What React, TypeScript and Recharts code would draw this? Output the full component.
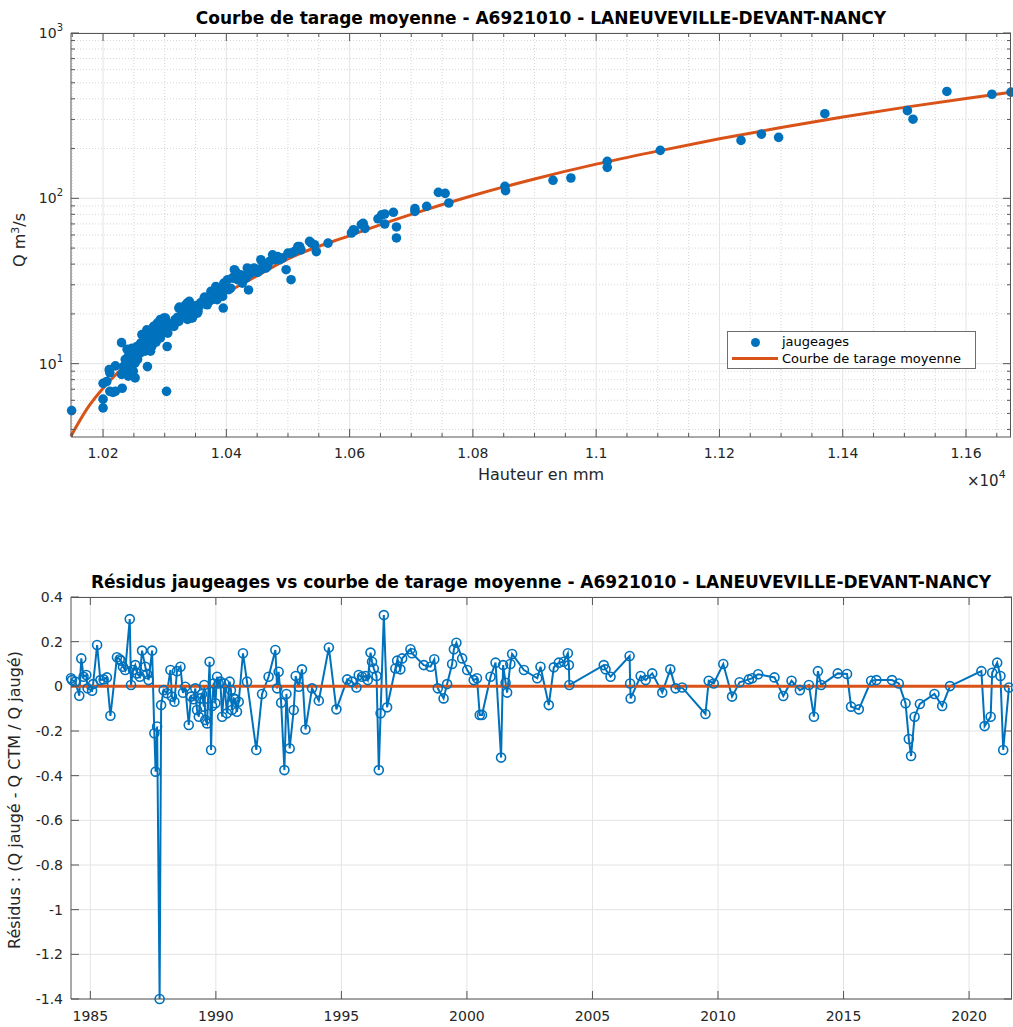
import React from 'react';
import { ComposedChart, Scatter, Line, XAxis, YAxis, CartesianGrid } from 'recharts';

const FONT = '"DejaVu Sans", Verdana, sans-serif';
const BLUE = '#0072BD';
const ORANGE = '#D95319';
const AXIS = '#555555';
const TEXT = '#262626';

// jaugeages : [hauteur (mm), débit (m3/s)]
const jaugeages: [number, number][] = [
  [10149, 5.2], [10200, 6.1], [10200, 5.4], [10200, 7.6], [10206, 7.8], [10211, 8.8], [10210, 9.2],
  [10220, 9.7], [10230, 13.4], [10231, 7.1], [10220, 6.8], [10211, 6.8], [10216, 6.7], [10230, 8.6],
  [10233, 9.6], [10236, 10.6], [10239, 9.0], [10241, 8.4], [10244, 11.6], [10247, 12.4], [10249, 10.8],
  [10239, 12.2], [10241, 11.1], [10244, 10.3], [10247, 9.6], [10249, 9.0], [10252, 8.2], [10252, 10.1],
  [10254, 11.6], [10255, 12.7], [10255, 11.9], [10256, 10.6], [10260, 11.6], [10261, 13.3], [10263, 15.0],
  [10263, 12.4], [10266, 13.3], [10268, 11.9], [10269, 15.3], [10270, 14.3], [10271, 16.0], [10272, 12.7],
  [10272, 9.6], [10274, 14.0], [10276, 15.0], [10277, 11.9], [10278, 13.0], [10279, 12.7], [10281, 14.6],
  [10282, 16.8], [10283, 16.0], [10286, 13.5], [10288, 17.6], [10289, 15.0], [10290, 16.0], [10292, 18.0],
  [10293, 18.5], [10293, 14.3], [10294, 15.7], [10296, 17.2], [10297, 16.4], [10298, 18.5], [10299, 18.9],
  [10301, 18.9], [10303, 18.0], [10303, 6.8], [10304, 16.8], [10304, 12.7], [10305, 15.3], [10308, 17.2],
  [10312, 17.0], [10315, 16.8], [10317, 18.5], [10321, 19.1], [10323, 18.0], [10323, 21.7], [10324, 22.0],
  [10328, 20.7], [10332, 19.8], [10334, 22.7], [10337, 18.5], [10337, 23.3], [10340, 23.8], [10341, 21.7],
  [10343, 18.9], [10345, 18.9], [10346, 20.2], [10350, 22.4], [10353, 20.2], [10354, 20.7], [10356, 22.2],
  [10358, 23.3], [10364, 24.9], [10365, 25.3], [10369, 22.7], [10372, 23.8], [10375, 27.4], [10377, 24.4],
  [10380, 26.7], [10383, 29.3], [10385, 24.4], [10388, 26.1], [10391, 28.0], [10394, 25.5], [10395, 21.7],
  [10396, 30.7], [10399, 29.3], [10402, 32.2], [10404, 28.0], [10407, 28.6], [10410, 33.0], [10412, 32.9],
  [10413, 37.0], [10415, 36.1], [10418, 32.2], [10423, 34.5], [10426, 30.7], [10429, 33.7], [10432, 32.9],
  [10434, 37.9], [10436, 27.9], [10437, 35.3], [10440, 35.3], [10443, 37.0], [10445, 37.9], [10448, 37.0],
  [10451, 35.6], [10456, 37.0], [10456, 42.5], [10459, 38.7], [10464, 37.8], [10467, 38.8], [10470, 41.5],
  [10475, 45.5], [10478, 42.5], [10483, 44.5], [10486, 42.5], [10489, 43.5], [10491, 43.5], [10497, 37.0],
  [10500, 46.6], [10505, 32.2], [10505, 46.6], [10510, 47.6], [10516, 51.1], [10519, 51.1], [10521, 48.8],
  [10535, 54.9], [10538, 53.6], [10543, 52.4], [10546, 47.6], [10565, 53.6], [10603, 61.7], [10606, 64.4],
  [10608, 63.8], [10619, 69.4], [10622, 70.6], [10625, 65.8], [10646, 75.2], [10652, 79.5], [10657, 80.4],
  [10657, 69.9], [10671, 82.3], [10676, 67.1], [10676, 57.6], [10706, 83.4], [10706, 86.6], [10725, 89.5],
  [10744, 108.7], [10755, 107.2], [10761, 93.7], [10852, 118.2], [10853, 111.3], [10930, 128.5],
  [10959, 132.7], [11018, 167.4], [11018, 153.9], [11104, 195], [11235, 224], [11268, 244.5],
  [11296, 233.6], [11371, 325], [11505, 339], [11514, 301], [11569, 443], [11642, 426], [11673, 439],
];

// courbe de tarage moyenne
const courbeH = [10148, 10175, 10200, 10225, 10250, 10275, 10300, 10350, 10400, 10450, 10500, 10600, 10700,
  10800, 10900, 11000, 11100, 11200, 11300, 11400, 11500, 11600, 11673];
const courbeQ = [3.65, 5.4, 7.1, 8.9, 10.9, 13.6, 16.6, 21.5, 26.9, 34, 43, 59.5, 80, 104, 131, 161, 193, 229,
  268, 310, 355, 402, 438];

// résidus : [année décimale, résidu]
const residus: [number, number][] = [
  [1984.23, 0.036], [1984.27, 0.028], [1984.40, 0.021], [1984.56, -0.042], [1984.64, 0.125], [1984.73, 0.043],
  [1984.84, 0.051], [1984.89, -0.009], [1985.07, -0.020], [1985.11, 0.010], [1985.27, 0.185], [1985.40, 0.028],
  [1985.53, 0.031], [1985.66, 0.040], [1985.80, -0.132], [1986.06, 0.130], [1986.17, 0.121], [1986.22, 0.115],
  [1986.30, 0.088], [1986.39, 0.073], [1986.57, 0.301], [1986.62, 0.006], [1986.70, 0.073], [1986.79, 0.095],
  [1986.86, 0.058], [1986.97, 0.043], [1987.06, 0.160], [1987.19, 0.088], [1987.26, 0.055], [1987.32, 0.028],
  [1987.46, 0.160], [1987.55, -0.210], [1987.60, -0.382], [1987.66, -0.180], [1987.76, -1.400], [1987.82, -0.084],
  [1987.92, -0.017], [1988.05, -0.031], [1988.19, 0.073], [1988.25, -0.046], [1988.35, -0.069], [1988.45, 0.068],
  [1988.59, 0.088], [1988.69, -0.029], [1988.78, -0.002], [1988.92, -0.173], [1989.01, -0.046], [1989.12, -0.058],
  [1989.18, -0.009], [1989.25, -0.106], [1989.32, -0.136], [1989.38, -0.054], [1989.45, -0.034], [1989.52, -0.091],
  [1989.54, 0.006], [1989.58, -0.151], [1989.65, -0.166], [1989.75, 0.110], [1989.81, -0.285], [1989.85, -0.088],
  [1989.91, 0.013], [1989.98, -0.076], [1990.05, 0.043], [1990.11, 0.013], [1990.18, 0.021], [1990.25, -0.136],
  [1990.34, 0.013], [1990.44, -0.121], [1990.55, 0.021], [1990.60, -0.017], [1990.64, -0.106], [1990.71, -0.054],
  [1990.78, -0.058], [1990.84, -0.114], [1990.91, -0.069], [1991.08, 0.148], [1991.24, 0.021], [1991.61, -0.285],
  [1991.84, -0.034], [1992.10, 0.043], [1992.37, 0.163], [1992.44, -0.009], [1992.50, 0.065], [1992.60, -0.073],
  [1992.73, -0.375], [1992.81, -0.034], [1992.94, -0.278], [1993.10, -0.106], [1993.18, 0.046], [1993.30, -0.002],
  [1993.43, 0.076], [1993.57, -0.193], [1993.83, -0.009], [1994.10, -0.064], [1994.50, 0.174], [1994.80, -0.103],
  [1995.23, 0.031], [1995.42, 0.021], [1995.60, -0.005], [1995.69, 0.051], [1995.82, 0.043], [1995.96, 0.046],
  [1996.05, 0.028], [1996.16, 0.151], [1996.22, 0.110], [1996.29, 0.080], [1996.40, 0.046], [1996.49, -0.375],
  [1996.56, -0.121], [1996.69, 0.319], [1996.82, -0.094], [1997.15, 0.080], [1997.22, 0.115], [1997.35, 0.076],
  [1997.42, 0.125], [1997.75, 0.166], [1997.81, 0.148], [1998.28, 0.095], [1998.55, 0.088], [1998.70, 0.121],
  [1998.84, -0.009], [1999.07, -0.054], [1999.21, 0.010], [1999.41, 0.100], [1999.48, 0.166], [1999.58, 0.195],
  [1999.81, 0.125], [2000.01, 0.073], [2000.27, 0.028], [2000.40, 0.036], [2000.51, -0.128], [2000.60, -0.128],
  [2000.94, 0.043], [2001.14, 0.106], [2001.36, -0.319], [2001.44, 0.095], [2001.54, 0.016], [2001.60, -0.028],
  [2001.73, 0.100], [2001.80, 0.145], [2002.27, 0.073], [2002.80, 0.036], [2002.93, 0.088], [2003.26, -0.084],
  [2003.46, 0.085], [2003.66, 0.106], [2003.86, 0.110], [2004.02, 0.148], [2004.06, 0.095], [2004.08, 0.006],
  [2005.45, 0.095], [2005.52, 0.076], [2005.72, 0.043], [2006.48, 0.136], [2006.50, 0.013], [2006.52, -0.054],
  [2006.92, 0.046], [2007.12, 0.028], [2007.38, 0.058], [2007.78, -0.028], [2008.10, 0.076], [2008.31, -0.009],
  [2008.57, -0.005], [2009.50, -0.124], [2009.63, 0.025], [2009.83, 0.013], [2010.21, 0.100], [2010.56, -0.046],
  [2010.86, 0.018], [2011.23, 0.031], [2011.36, 0.036], [2011.60, 0.054], [2012.25, 0.040], [2012.60, -0.043],
  [2012.93, 0.025], [2013.26, -0.017], [2013.62, 0.006], [2013.82, -0.136], [2013.98, 0.068], [2014.11, 0.006],
  [2014.77, 0.058], [2015.14, 0.055], [2015.30, -0.091], [2015.61, -0.103], [2016.10, 0.025], [2016.31, 0.028],
  [2016.93, 0.028], [2017.20, 0.013], [2017.47, -0.076], [2017.60, -0.236], [2017.69, -0.312], [2017.83, -0.136],
  [2018.04, -0.079], [2018.62, -0.034], [2018.93, -0.088], [2019.24, 0.001], [2020.49, 0.068], [2020.62, -0.178],
  [2020.86, -0.136], [2020.92, 0.061], [2021.12, 0.106], [2021.25, 0.046], [2021.36, -0.285], [2021.59, -0.005],
];

// ticks
const hTicksMajor = [10200, 10400, 10600, 10800, 11000, 11200, 11400, 11600];
const hTicksMinor = [10150, 10250, 10300, 10350, 10450, 10500, 10550, 10650, 10700, 10750, 10850, 10900, 10950,
  11050, 11100, 11150, 11250, 11300, 11350, 11450, 11500, 11550, 11650];
const qTicksMajor = [10, 100, 1000];
const qTicksMinor = [4, 5, 6, 7, 8, 9, 20, 30, 40, 50, 60, 70, 80, 90, 200, 300, 400, 500, 600, 700, 800, 900];
const yearTicks = [1985, 1990, 1995, 2000, 2005, 2010, 2015, 2020];
const residuTicks = [-1.4, -1.2, -1, -0.8, -0.6, -0.4, -0.2, 0, 0.2, 0.4];

const jaugeagesData = jaugeages.map(([h, q]) => ({ h, q }));
const courbeData = courbeH.map((h, i) => ({ h, q: courbeQ[i] }));
const residusData = residus.map(([t, v]) => ({ t, v }));
const zeroData = [
  { t: residus[0][0], v: 0 },
  { t: residus[residus.length - 1][0], v: 0 },
];

// plot boxes (chart coordinates)
const TOP = { left: 71, right: 1011, top: 33, bottom: 437 };
const BOT = { left: 71, right: 1012, top: 57, bottom: 459 };

const XTickH = (props: any) => {
  const { x, payload } = props;
  const v = payload.value;
  const major = hTicksMajor.includes(v);
  const len = major ? 8 : 4;
  return (
    <g>
      <line x1={x} x2={x} y1={TOP.bottom} y2={TOP.bottom - len} stroke={AXIS} />
      <line x1={x} x2={x} y1={TOP.top} y2={TOP.top + len} stroke={AXIS} />
      {major && (
        <text x={x} y={TOP.bottom + 21} textAnchor="middle" fill={TEXT} fontSize={14} fontFamily={FONT}>
          {String(Number((v / 1e4).toFixed(3)))}
        </text>
      )}
    </g>
  );
};

const YTickQ = (props: any) => {
  const { y, payload } = props;
  const v = payload.value;
  const major = qTicksMajor.includes(v);
  const len = major ? 8 : 4;
  return (
    <g>
      <line x1={TOP.left} x2={TOP.left + len} y1={y} y2={y} stroke={AXIS} />
      <line x1={TOP.right} x2={TOP.right - len} y1={y} y2={y} stroke={AXIS} />
      {major && (
        <text x={TOP.left - 8} y={y + 5} textAnchor="end" fill={TEXT} fontSize={14} fontFamily={FONT}>
          10<tspan dy={-7} fontSize={10}>{Math.round(Math.log10(v))}</tspan>
        </text>
      )}
    </g>
  );
};

const XTickYear = (props: any) => {
  const { x, payload } = props;
  return (
    <g>
      <line x1={x} x2={x} y1={BOT.bottom} y2={BOT.bottom - 8} stroke={AXIS} />
      <line x1={x} x2={x} y1={BOT.top} y2={BOT.top + 8} stroke={AXIS} />
      <text x={x} y={BOT.bottom + 22} textAnchor="middle" fill={TEXT} fontSize={14} fontFamily={FONT}>
        {payload.value}
      </text>
    </g>
  );
};

const YTickRes = (props: any) => {
  const { y, payload } = props;
  return (
    <g>
      <line x1={BOT.left} x2={BOT.left + 8} y1={y} y2={y} stroke={AXIS} />
      <line x1={BOT.right} x2={BOT.right - 8} y1={y} y2={y} stroke={AXIS} />
      <text x={BOT.left - 8} y={y + 5} textAnchor="end" fill={TEXT} fontSize={14} fontFamily={FONT}>
        {String(payload.value)}
      </text>
    </g>
  );
};

const QLabel = () => (
  <text x={25} y={240} transform="rotate(-90 25 240)" textAnchor="middle" fill={TEXT} fontSize={16} fontFamily={FONT}>
    Q m<tspan dy={-6} fontSize={11}>3</tspan><tspan dy={6}>/s</tspan>
  </text>
);

const HLabel = () => (
  <g fontFamily={FONT} fill={TEXT}>
    <text x={541} y={480} textAnchor="middle" fontSize={16}>Hauteur en mm</text>
    <text x={967} y={486} fontSize={15}>
      ×10<tspan dy={-8} fontSize={11}>4</tspan>
    </text>
  </g>
);

const ResLabel = () => (
  <text x={20} y={800 - 540} transform={`rotate(-90 20 ${800 - 540})`} textAnchor="middle" fill={TEXT} fontSize={16} fontFamily={FONT}>
    Résidus : (Q jaugé - Q CTM / Q jaugé)
  </text>
);

const Dot = (p: any) => <circle cx={p.cx} cy={p.cy} r={4.8} fill={BLUE} />;

const titleStyle: React.CSSProperties = {
  position: 'absolute', left: 41, width: 1000, textAlign: 'center', fontFamily: FONT,
  fontWeight: 'bold', fontSize: 17, lineHeight: '20px', color: '#000', whiteSpace: 'nowrap',
};

const App: React.FC = () => {
  return (
    <div style={{ position: 'absolute', left: 0, top: 0, width: 1013, height: 1027, background: '#fff', overflow: 'hidden' }}>
      <div style={{ ...titleStyle, top: 8 }}>Courbe de tarage moyenne - A6921010 - LANEUVEVILLE-DEVANT-NANCY</div>
      <div style={{ position: 'absolute', left: 0, top: 0 }}>
        <ComposedChart width={1013} height={500} margin={{ top: 33, right: 2, bottom: 33, left: 11 }}>
          <CartesianGrid stroke="#d6d6d6" strokeDasharray="1 2" horizontalValues={qTicksMinor} verticalValues={hTicksMinor} />
          <CartesianGrid stroke="#e3e3e3" horizontalValues={qTicksMajor} verticalValues={hTicksMajor} />
          <XAxis type="number" dataKey="h" domain={[10148, 11673]} ticks={[...hTicksMajor, ...hTicksMinor].sort((a, b) => a - b)}
            interval={0} tick={<XTickH />} tickLine={false} height={30} stroke={AXIS} label={<HLabel />} />
          <YAxis type="number" dataKey="q" scale="log" domain={[3.6, 1000]} ticks={[...qTicksMinor, ...qTicksMajor].sort((a, b) => a - b)}
            interval={0} tick={<YTickQ />} tickLine={false} width={60} stroke={AXIS} label={<QLabel />} />
          <Scatter data={jaugeagesData} fill={BLUE} shape={Dot} isAnimationActive={false} />
          <Line data={courbeData} dataKey="q" type="monotone" stroke={ORANGE} strokeWidth={3} dot={false} isAnimationActive={false} />
        </ComposedChart>
      </div>
      <div style={{ position: 'absolute', left: TOP.left, top: TOP.top, width: TOP.right - TOP.left, height: TOP.bottom - TOP.top, boxSizing: 'border-box', borderTop: `1px solid ${AXIS}`, borderRight: `1px solid ${AXIS}`, pointerEvents: 'none' }} />
      <div style={{ position: 'absolute', left: 727, top: 331, width: 249, height: 38, boxSizing: 'border-box', border: '1px solid #6e6e6e', background: '#fff', fontFamily: FONT, fontSize: 13, color: '#000' }}>
        <div style={{ position: 'absolute', left: 23, top: 6, width: 9, height: 9, borderRadius: '50%', background: BLUE }} />
        <div style={{ position: 'absolute', left: 54, top: 2, lineHeight: '16px' }}>jaugeages</div>
        <div style={{ position: 'absolute', left: 4, top: 25, width: 46, height: 3, background: ORANGE }} />
        <div style={{ position: 'absolute', left: 54, top: 19, lineHeight: '16px' }}>Courbe de tarage moyenne</div>
      </div>

      <div style={{ ...titleStyle, top: 572 }}>Résidus jaugeages vs courbe de tarage moyenne - A6921010 - LANEUVEVILLE-DEVANT-NANCY</div>
      <div style={{ position: 'absolute', left: 0, top: 540 }}>
        <ComposedChart width={1013} height={487} margin={{ top: 57, right: 1, bottom: 0, left: 11 }}>
          <CartesianGrid stroke="#e3e3e3" horizontalValues={residuTicks} verticalValues={yearTicks} />
          <XAxis type="number" dataKey="t" domain={[1984.23, 2021.71]} ticks={yearTicks} interval={0} tick={<XTickYear />}
            tickLine={false} height={28} stroke={AXIS} />
          <YAxis type="number" dataKey="v" domain={[-1.4, 0.4]} ticks={residuTicks} interval={0} tick={<YTickRes />}
            tickLine={false} width={60} stroke={AXIS} label={<ResLabel />} />
          <Line data={residusData} dataKey="v" stroke={BLUE} strokeWidth={2}
            dot={{ r: 4.5, fill: 'none', stroke: BLUE, strokeWidth: 1.6 }} isAnimationActive={false} />
          <Line data={zeroData} dataKey="v" stroke={ORANGE} strokeWidth={3} dot={false} isAnimationActive={false} />
        </ComposedChart>
      </div>
      <div style={{ position: 'absolute', left: BOT.left, top: 540 + BOT.top, width: BOT.right - BOT.left, height: BOT.bottom - BOT.top, boxSizing: 'border-box', borderTop: `1px solid ${AXIS}`, borderRight: `1px solid ${AXIS}`, pointerEvents: 'none' }} />
    </div>
  );
};

export default App;
